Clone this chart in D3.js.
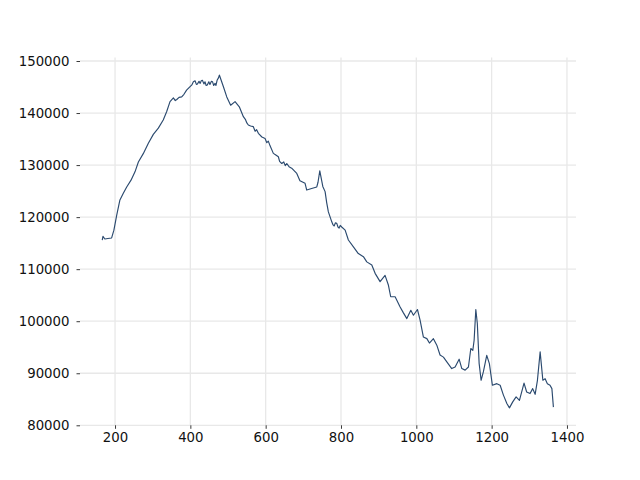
<!DOCTYPE html>
<html>
<head>
<meta charset="utf-8">
<script src="https://cdn.jsdelivr.net/npm/d3@7"></script>
<style>
  html, body { margin: 0; padding: 0; background: #fff; }
  svg { display: block; }
  text { font-family: "DejaVu Sans", sans-serif; }
</style>
</head>
<body>
<svg id="chart" width="640" height="480"></svg>
<script>
// ---- data ----
const xValues = [166,168,173,181,191,197,204.5,213,222,231,242.5,253,262,275,288.5,301.7,315,328,337,346,
  355,360,364,370,377,383,390,404,408,412.5,416,419,423,426,429,432,436,439,442,445,449,452,456,459,462,465.6,468,471,475,477,
  487.6,496.7,507,518.7,530,540.8,546,550,554,560,567,572,576,580.6,590,598.4,603,607,611.7,
  620.4,626,633.7,637,642.7,648,652,656,662,669,682.6,691,704.6,709,722,735.7,739,743.7,
  751.7,757.8,762,766.5,775.5,779,782,785,788.8,792,795,798,802,811,819.6,833,846,859.5,868.5,881.8,890.6,903.8,917,926,
  932,943.7,957,965,974.8,985.4,992.3,1003,1010,1018.8,1028,1034.8,1045.4,1054.4,1063,1072,1081,1094,1103,1113.7,
  1120.8,1129.6,1138.4,1144.7,1150,1153.5,1158,1162,1166.8,1172,1178,1187,1194,1202,1213.8,1222.6,1231.3,1240.4,1247.3,1256,
  1265,1273.8,1286,1293,1302,1309,1315.5,1321.6,1328.8,1336,1342,1348,1355,1360,1364];
const yValues = [115600,116300,115800,115900,116000,117500,120400,123300,124600,125800,127100,128700,130600,132200,134200,135900,137100,138650,140250,142200,
  142900,142400,142600,143000,143100,143600,144400,145400,146000,146200,145500,145600,146100,145700,146200,146300,145600,146000,145300,145400,146000,145500,146100,146000,145300,145700,145300,146300,146800,147300,
  145100,143100,141500,142200,141200,139300,138800,138100,137700,137500,137400,136500,136800,136100,135400,135100,134300,134600,133700,
  132250,132000,131600,130700,130300,130600,129900,130300,129700,129400,128400,127000,126500,125200,125500,125800,126700,128900,
  125900,124900,122800,121000,119100,118500,118300,118900,118800,118100,117900,118400,118100,117500,115600,114300,113000,112400,111400,110800,109200,107600,108800,106900,
  104700,104700,102750,101700,100500,102100,101150,102250,100200,96950,96650,95800,96650,95400,93500,93100,92200,90900,91200,92700,
  90900,90600,91200,94750,94400,96350,102250,99550,91900,88650,90250,93450,91850,87700,88000,87700,85800,84200,83350,84500,
  85450,84800,88100,86400,86100,87050,85950,88650,94100,88650,88950,88000,87700,87050,83500];
const xTicks = [200,400,600,800,1000,1200,1400];
const yTicks = [80000,90000,100000,110000,120000,130000,140000,150000];

// ---- layout ----
const svg = d3.select("#chart");
const plotLeft = 80, plotRight = 576, plotTop = 57.6, plotBottom = 425.3;

const x = d3.scaleLinear().domain([107, 1424]).range([plotLeft, plotRight]);
const y = d3.scaleLinear().domain([80000, 150000]).range([plotBottom, 61]);

// grid
svg.append("g").selectAll("line").data(xTicks).join("line")
  .attr("x1", d => x(d)).attr("x2", d => x(d))
  .attr("y1", plotTop).attr("y2", plotBottom)
  .attr("stroke", "#e8e8e8").attr("stroke-width", 1.3);
svg.append("g").selectAll("line").data(yTicks).join("line")
  .attr("x1", plotLeft).attr("x2", plotRight)
  .attr("y1", d => y(d)).attr("y2", d => y(d))
  .attr("stroke", "#e8e8e8").attr("stroke-width", 1.3);

// axes
const xAxis = d3.axisBottom(x).tickValues(xTicks).tickSize(3.5).tickPadding(3.5).tickFormat(d3.format("d"));
const yAxis = d3.axisLeft(y).tickValues(yTicks).tickSize(3.5).tickPadding(7).tickFormat(d3.format("d"));

const gx = svg.append("g").attr("transform", `translate(0,${plotBottom})`).call(xAxis);
const gy = svg.append("g").attr("transform", `translate(${plotLeft},0)`).call(yAxis);
[gx, gy].forEach(g => {
  g.select(".domain").remove();
  g.selectAll(".tick line").attr("stroke", "#222").attr("stroke-width", 0.9);
  g.selectAll(".tick text").attr("fill", "#111").style("font-size", "13.3px")
    .style("font-family", "'DejaVu Sans', sans-serif");
});

// line
const data = xValues.map((v, i) => [v, yValues[i]]);
svg.append("path").datum(data)
  .attr("fill", "none")
  .attr("stroke", "#2b4a6f")
  .attr("stroke-width", 1.15)
  .attr("stroke-linejoin", "round")
  .attr("d", d3.line().x(d => x(d[0])).y(d => y(d[1])));
</script>
</body>
</html>
